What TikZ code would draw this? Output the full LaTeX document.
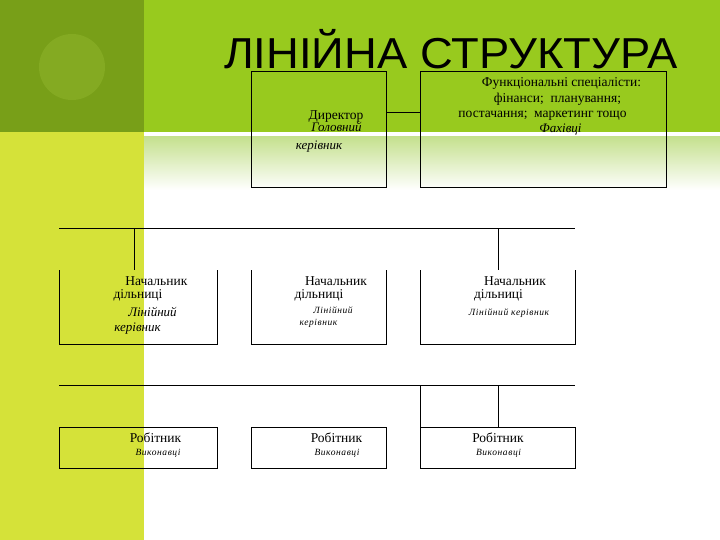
\documentclass[tikz,border=0pt]{standalone}
\usepackage{fontspec}
\setmainfont{Liberation Serif}
\newfontfamily\titlefont{Liberation Sans}
\definecolor{topgreen}{HTML}{98CA1E}
\definecolor{darkolive}{HTML}{789F18}
\definecolor{circlegreen}{HTML}{84AA22}
\definecolor{lime}{HTML}{D5E239}
\definecolor{palegreen}{HTML}{C4E08C}
\tikzset{
  box/.style={draw, line width=0.9pt, inner sep=0pt, outer sep=0pt},
  openbox/.style={inner sep=0pt, outer sep=0pt},
  conn/.style={line width=0.9pt},
  txt/.style={anchor=base, inner sep=0pt, font=\fontsize{13.5}{14}\selectfont},
  itxt/.style={anchor=base, inner sep=0pt, font=\fontsize{13}{14}\selectfont\itshape},
  stxt/.style={anchor=base, inner sep=0pt, font=\fontsize{9.5}{11}\selectfont\itshape\addfontfeature{LetterSpace=6}},
}
\begin{document}
\begin{tikzpicture}[x=1pt,y=-1pt]
\useasboundingbox (0,0) rectangle (720,540);
% background
\fill[white] (0,0) rectangle (720,540);
\fill[topgreen] (144,0) rectangle (720,131.7);
\fill[darkolive] (0,0) rectangle (144,132.3);
\fill[lime] (0,132.3) rectangle (144,540);
\fill[circlegreen] (72,67) circle (33);
\shade[top color=palegreen, bottom color=white] (144,136) rectangle (720,190);
\fill[white] (144,131.7) rectangle (720,136);
% title
\node[anchor=base west, inner sep=0pt] (title) at (224,68.5) {\titlefont\fontsize{43.3}{45}\selectfont\scalebox{1.048}[1]{ЛІНІЙНА СТРУКТУРА}};
% boxes
\node[box, minimum width=135pt, minimum height=115.3pt] (dir) at (319,129.35) {};
\node[box, minimum width=246pt, minimum height=115.3pt] (spec) at (543,129.35) {};
\node[openbox, minimum width=158pt, minimum height=74pt] (m1) at (138,307) {};
\node[openbox, minimum width=135pt, minimum height=74pt] (m2) at (319,307) {};
\node[openbox, minimum width=155pt, minimum height=74pt] (m3) at (497.5,307) {};
\draw[conn] (m1.north west) -- (m1.south west) -- (m1.south east) -- (m1.north east);
\draw[conn] (m2.north west) -- (m2.south west) -- (m2.south east) -- (m2.north east);
\draw[conn] (m3.north west) -- (m3.south west) -- (m3.south east) -- (m3.north east);
\node[box, minimum width=158pt, minimum height=41pt] (b1) at (138,447.5) {};
\node[box, minimum width=135pt, minimum height=41pt] (b2) at (319,447.5) {};
\node[box, minimum width=155pt, minimum height=41pt] (b3) at (497.5,447.5) {};
% connectors
\coordinate (lvl) at (0,112.3);
\draw[conn] (dir.east |- lvl) -- (spec.west |- lvl);
\coordinate (bus1w) at (59,228.7);
\coordinate (bus1e) at (575,228.7);
\draw[conn] (bus1w) -- (bus1e);
\coordinate (t1) at (134.7,228.7);
\coordinate (t2) at (498,228.7);
\draw[conn] (t1) -- (t1 |- m1.north);
\draw[conn] (t2) -- (t2 |- m3.north);
\coordinate (bus2w) at (59,385);
\coordinate (bus2e) at (575,385);
\draw[conn] (bus2w) -- (bus2e);
\coordinate (t3) at (498,385);
\draw[conn] (t3) -- (t3 |- b3.north);
\draw[conn] (b3.north west |- bus2w) -- (b3.north west);
% director texts
\node[txt] (d1) at (336,120) {Директор};
\node[itxt] (d2) at (336.5,131.7) {Головний};
\node[itxt] (d3) at (319,150) {керівник};
% specialists texts
\node[txt] (s1) at (561.5,87) {Функціональні спеціалісти:};
\node[txt] (s2) at (557.5,102.7) {фінанси;\ \ планування;};
\node[txt] (s3) at (542.5,118) {постачання;\ \ маркетинг тощо};
\node[itxt] (s4) at (560.5,133) {Фахівці};
% middle row texts
\node[txt] (m1a) at (156.4,285) {Начальник};
\node[txt] (m1b) at (138,298) {дільниці};
\node[itxt] (m1c) at (152.5,316) {Лінійний};
\node[itxt] (m1d) at (137.5,331) {керівник};
\node[txt] (m2a) at (336,285) {Начальник};
\node[txt] (m2b) at (319,298) {дільниці};
\node[stxt] (m2c) at (333,313) {Лінійний};
\node[stxt] (m2d) at (318.5,325) {керівник};
\node[txt] (m3a) at (515,285) {Начальник};
\node[txt] (m3b) at (498.5,298) {дільниці};
\node[stxt] (m3c) at (509,315) {Лінійний\ керівник};
% bottom texts
\node[txt] (b1a) at (155.5,442) {Робітник};
\node[stxt] (b1b) at (158,455) {Виконавці};
\node[txt] (b2a) at (336.5,442) {Робітник};
\node[stxt] (b2b) at (337,455) {Виконавці};
\node[txt] (b3a) at (498,442) {Робітник};
\node[stxt] (b3b) at (498.5,455) {Виконавці};
\end{tikzpicture}
\end{document}
